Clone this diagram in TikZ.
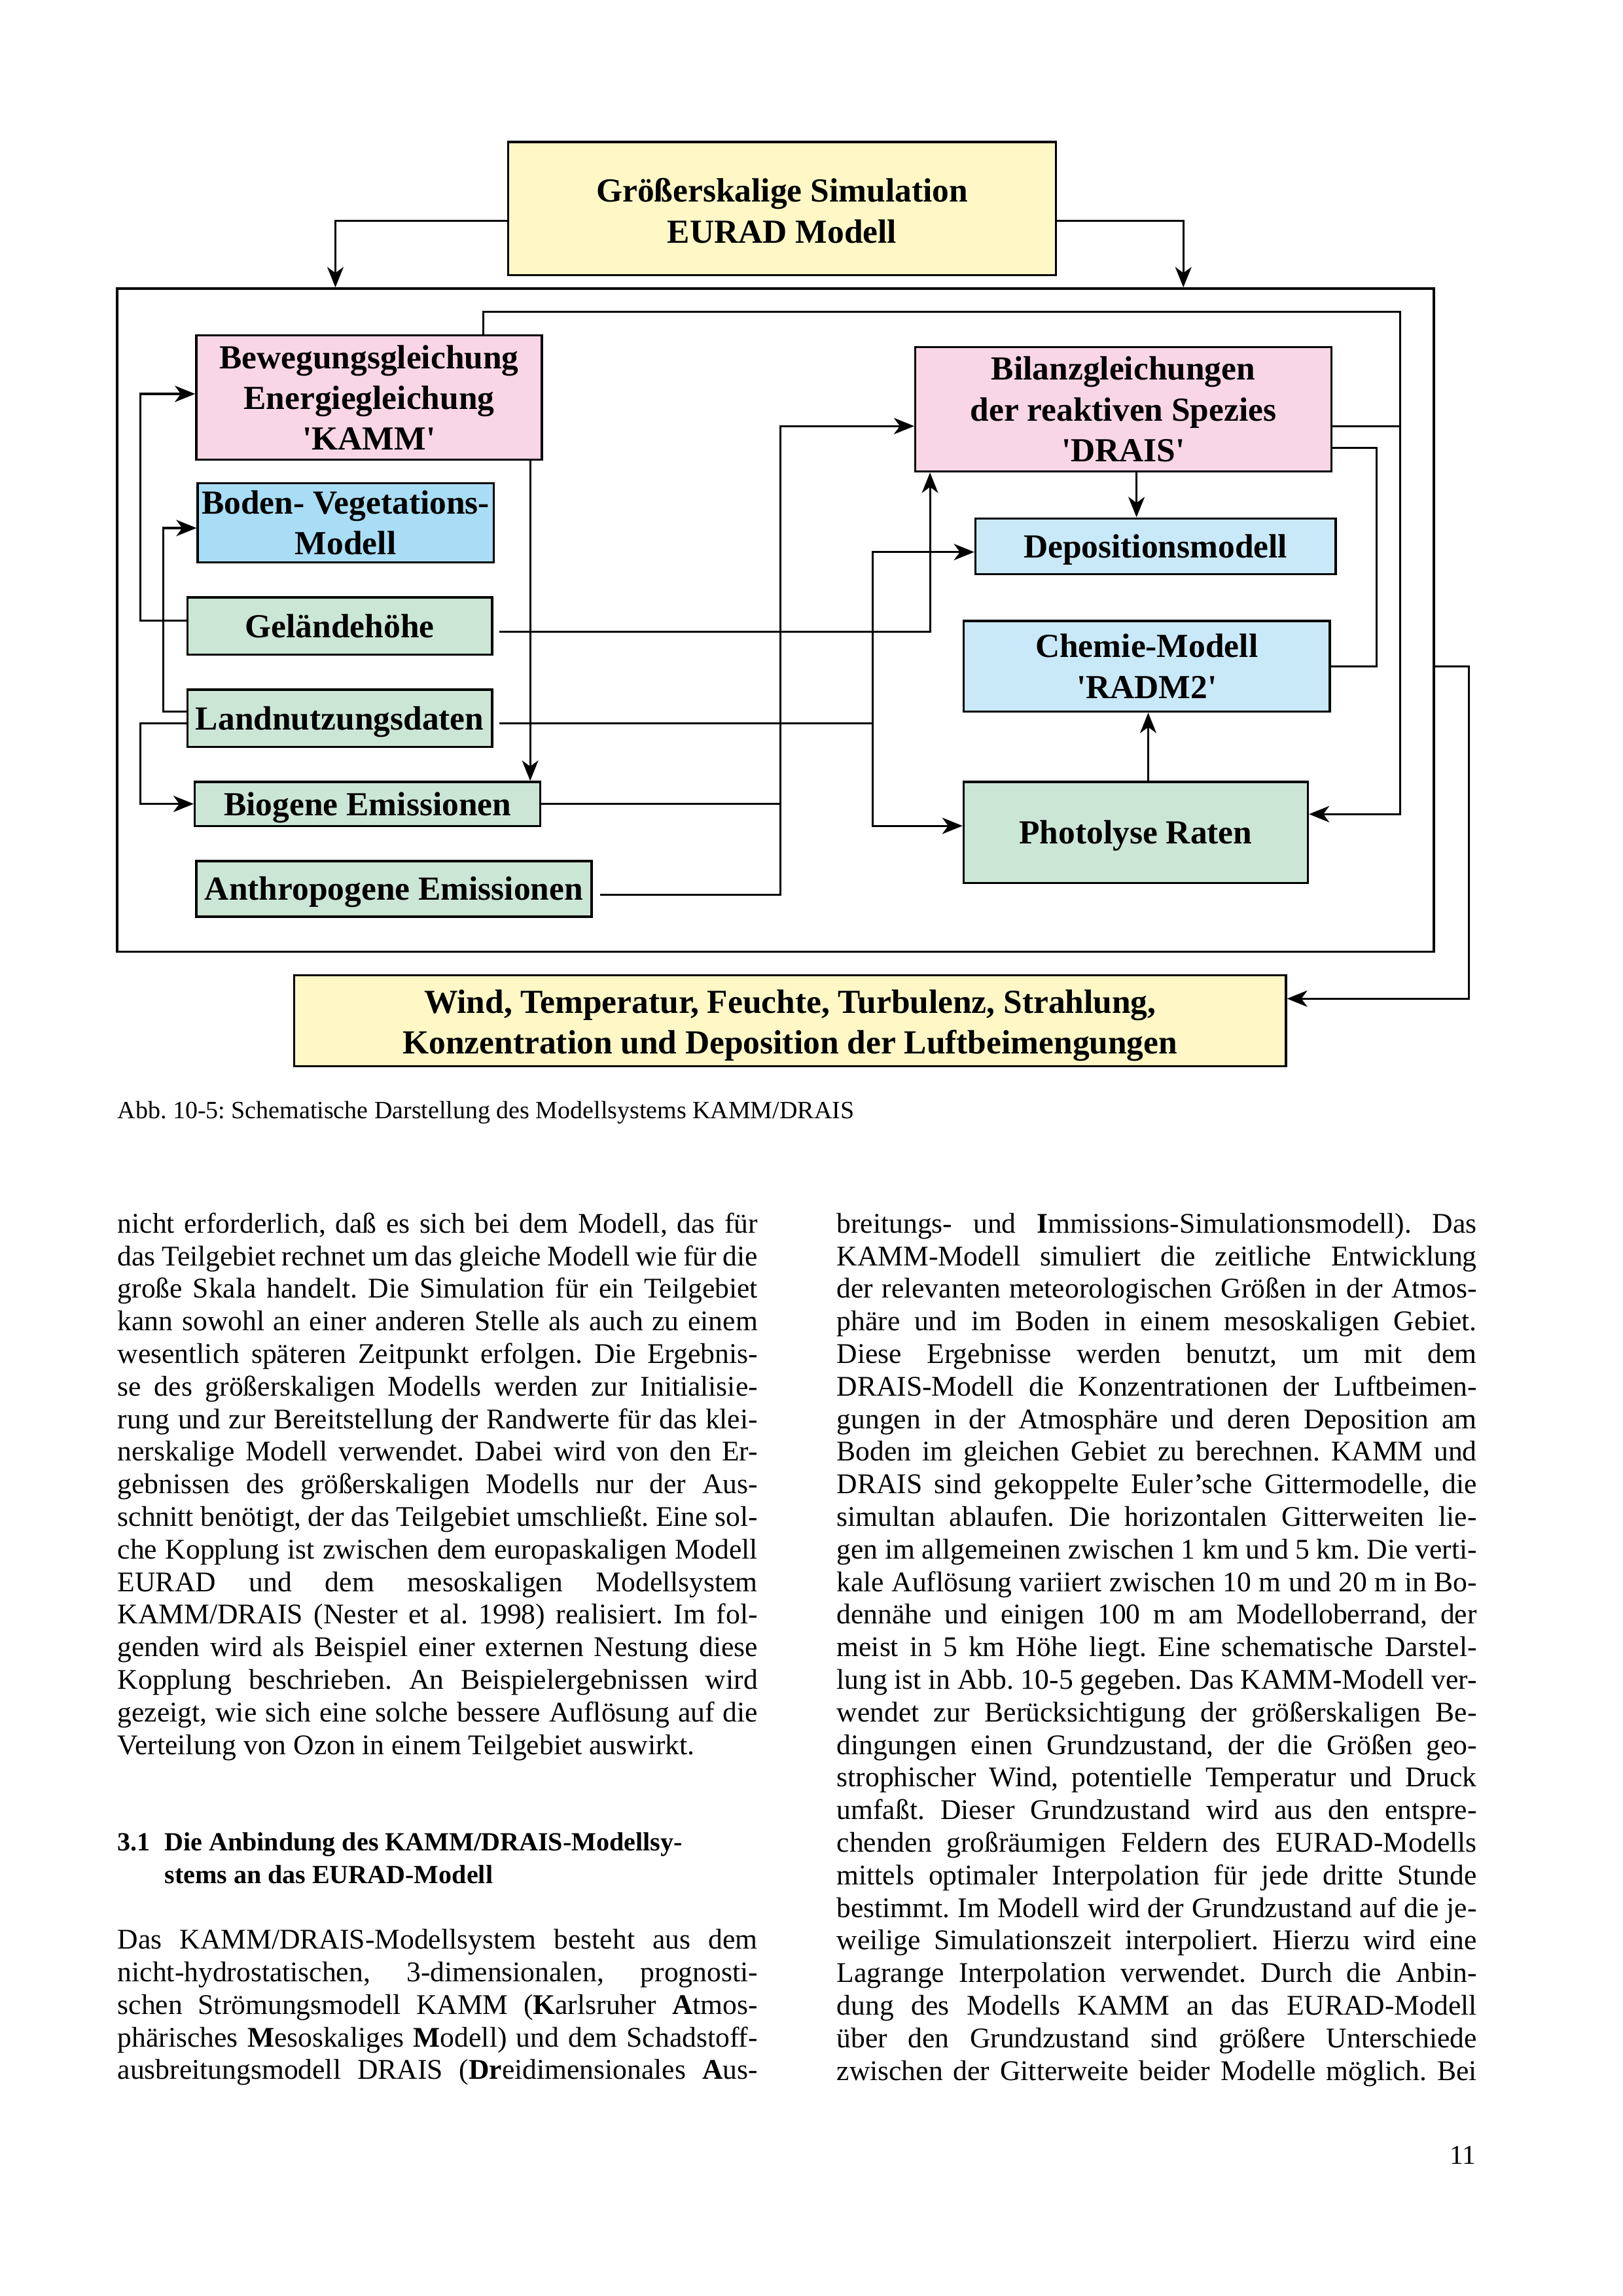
\documentclass[tikz,border=0pt]{standalone}
\usepackage{fontspec}
\setmainfont{Liberation Serif}
\usetikzlibrary{arrows.meta}
\frenchspacing
\newdimen\pxd \pxd=0.18953mm
\newdimen\colw \colw=437\pxd
\newcommand\JL[1]{\hbox to \colw{#1}}
\newcommand\NL[1]{\hbox{#1}}
\newcommand\px{0.18953mm}
\newcommand\dfont{\fontsize{12.4}{15}\selectfont\bfseries\frenchspacing}
\newcommand\bodyfont{\fontsize{10.5}{12}\selectfont\frenchspacing}
\newcommand\q{\textquotesingle}
\definecolor{cyel}{RGB}{255,248,198}
\definecolor{cpink}{RGB}{249,214,229}
\definecolor{cblueA}{RGB}{168,221,245}
\definecolor{cblueB}{RGB}{201,233,248}
\definecolor{cgreen}{RGB}{204,230,213}
\tikzset{
  boxst/.style={draw, line width=0.8pt, inner sep=0pt, align=center, font=\dfont},
  one/.style={text height=11pt, text depth=2.6pt},
  dtext/.style={inner sep=0pt, align=center, font=\dfont},
  conn/.style={line width=0.75pt},
  arr/.style={conn, -{Stealth[length=7.5pt,width=6pt,inset=2.2pt]}},
  bodytxt/.style={anchor=base west, inner sep=0pt, font=\bodyfont},
}
\begin{document}
\begin{tikzpicture}[x=0.18953mm, y=-0.18953mm]
\useasboundingbox (0,0) rectangle (1108,1568);

% ---------- diagram boxes ----------
\node[boxst, fill=cyel, minimum width=374*\px, minimum height=91*\px] (top) at (534,142.5) {};
\node[dtext] (toptext) at ([yshift=-1.5*\px]top.center) {Größerskalige Simulation\\EURAD Modell};
\node[draw, line width=0.8pt, inner sep=0pt, minimum width=899*\px, minimum height=453*\px] (frame) at (529.5,423.5) {};
\node[boxst, fill=cpink, minimum width=236*\px, minimum height=85*\px] (kamm) at (252,271.5)
  {Bewegungsgleichung\\Energiegleichung\\\q KAMM\q};
\node[boxst, fill=cblueA, minimum width=202*\px, minimum height=54*\px] (boden) at (236,357)
  {Boden- Vegetations-\\Modell};
\node[boxst, one, fill=cgreen, minimum width=208*\px, minimum height=39*\px] (gel) at (232,427.5) {Geländehöhe};
\node[boxst, one, fill=cgreen, minimum width=208*\px, minimum height=39*\px] (land) at (232,490.5) {Landnutzungsdaten};
\node[boxst, one, fill=cgreen, minimum width=236*\px, minimum height=30*\px] (bio) at (251,549) {Biogene Emissionen};
\node[boxst, one, fill=cgreen, minimum width=270*\px, minimum height=38*\px] (anth) at (269,607) {Anthropogene Emissionen};
\node[boxst, fill=cpink, minimum width=284*\px, minimum height=85*\px] (drais) at (767,279.5)
  {Bilanzgleichungen\\der reaktiven Spezies\\\q DRAIS\q};
\node[boxst, one, fill=cblueB, minimum width=246*\px, minimum height=38*\px] (depo) at (789,373) {Depositionsmodell};
\node[boxst, fill=cblueB, minimum width=250*\px, minimum height=62*\px] (chem) at (783,455)
  {Chemie-Modell\\\q RADM2\q};
\node[boxst, one, fill=cgreen, minimum width=235*\px, minimum height=69*\px] (photo) at (775.5,568.5) {Photolyse Raten};
\node[boxst, fill=cyel, minimum width=677*\px, minimum height=62*\px] (bottom) at (539.5,697) {};
\node[dtext] (bottomtext) at ([yshift=-3.5*\px]bottom.center)
  {Wind, Temperatur, Feuchte, Turbulenz, Strahlung,\\Konzentration und Deposition der Luftbeimengungen};

% ---------- connectors ----------
\draw[arr] ([yshift=-8.5*\px]top.west) -| (frame.north -| 229,0);
\draw[arr] ([yshift=-8.5*\px]top.east) -| (frame.north -| 808,0);
\draw[arr] (kamm.north -| 330,0) |- (956,213) |- (photo.east |- 0,556);
\draw[conn] (drais.east |- 0,291) -- (956,291);
\draw[conn] (drais.east |- 0,306) -| (940,455) -- (chem.east);
\draw[arr] (frame.east |- chem.east) -| (1003,682) -- (bottom.east |- 0,682);
\draw[arr] (kamm.south -| 362,0) -- (bio.north -| 362,0);
\draw[arr] (gel.west |- 0,424) -| (96,269) -- (kamm.west |- 0,269);
\draw[arr] (land.west |- 0,486) -| (111.6,360.6) -- (boden.west |- 0,360.6);
\draw[arr] (land.west |- 0,494) -| (96,549) -- (bio.west);
\draw[arr] ([xshift=4*\px]gel.east |- 0,431.6) -| (drais.south -| 635,0);
\coordinate (jl) at (596,494);
\draw[conn] ([xshift=4*\px]land.east |- jl) -- (jl);
\draw[arr] (jl) |- (depo.west |- 0,377);
\draw[arr] (jl) |- (photo.west |- 0,564);
\draw[arr] ([xshift=5*\px]anth.east |- 0,611) -| (533,291) -- (drais.west |- 0,291);
\draw[conn] (bio.east) -- (bio.east -| 533,0);
\draw[arr] (photo.north -| 784,0) -- (chem.south -| 784,0);
\draw[arr] (drais.south -| 776,0) -- (depo.north -| 776,0);

% ---------- caption ----------
\node[anchor=base west, inner sep=0pt, font=\fontsize{9.15}{11}\selectfont] (caption) at (80,764)
  {Abb. 10-5: Schematische Darstellung des Modellsystems KAMM/DRAIS};

% ---------- left column ----------
\node[bodytxt] (bodyL1) at (80,842) {\vtop{%
\JL{nicht erforderlich, daß es sich bei dem Modell, das für}
\JL{das Teilgebiet rechnet um das gleiche Modell wie für die}
\JL{große Skala handelt. Die Simulation für ein Teilgebiet}
\JL{kann sowohl an einer anderen Stelle als auch zu einem}
\JL{wesentlich späteren Zeitpunkt erfolgen. Die Ergebnis-}
\JL{se des größerskaligen Modells werden zur Initialisie-}
\JL{rung und zur Bereitstellung der Randwerte für das klei-}
\JL{nerskalige Modell verwendet. Dabei wird von den Er-}
\JL{gebnissen des größerskaligen Modells nur der Aus-}
\JL{schnitt benötigt, der das Teilgebiet umschließt. Eine sol-}
\JL{che Kopplung ist zwischen dem europaskaligen Modell}
\JL{EURAD und dem mesoskaligen Modellsystem}
\JL{KAMM/DRAIS (Nester et al. 1998) realisiert. Im fol-}
\JL{genden wird als Beispiel einer externen Nestung diese}
\JL{Kopplung beschrieben. An Beispielergebnissen wird}
\JL{gezeigt, wie sich eine solche bessere Auflösung auf die}
\NL{Verteilung von Ozon in einem Teilgebiet auswirkt.}}};

\node[anchor=base west, inner sep=0pt, font=\fontsize{9.65}{11.9}\selectfont\bfseries] (head) at (80,1264) {\vtop{%
\hbox{\hbox to 32\pxd{3.1\hss}Die Anbindung des KAMM/DRAIS-Modellsy-}
\hbox{\hskip 32\pxd stems an das EURAD-Modell}}};

\node[bodytxt] (bodyL2) at (80,1331) {\vtop{%
\JL{Das KAMM/DRAIS-Modellsystem besteht aus dem}
\JL{nicht-hydrostatischen, 3-dimensionalen, prognosti-}
\JL{schen Strömungsmodell KAMM (\textbf{K}arlsruher \textbf{A}tmos-}
\JL{phärisches \textbf{M}esoskaliges \textbf{M}odell) und dem Schadstoff-}
\JL{ausbreitungsmodell DRAIS (\textbf{Dr}eidimensionales \textbf{A}us-}}};

% ---------- right column ----------
\node[bodytxt] (bodyR) at (571,842) {\vtop{%
\JL{breitungs- und \textbf{I}mmissions-Simulationsmodell). Das}
\JL{KAMM-Modell simuliert die zeitliche Entwicklung}
\JL{der relevanten meteorologischen Größen in der Atmos-}
\JL{phäre und im Boden in einem mesoskaligen Gebiet.}
\JL{Diese Ergebnisse werden benutzt, um mit dem}
\JL{DRAIS-Modell die Konzentrationen der Luftbeimen-}
\JL{gungen in der Atmosphäre und deren Deposition am}
\JL{Boden im gleichen Gebiet zu berechnen. KAMM und}
\JL{DRAIS sind gekoppelte Euler’sche Gittermodelle, die}
\JL{simultan ablaufen. Die horizontalen Gitterweiten lie-}
\JL{gen im allgemeinen zwischen 1 km und 5 km. Die verti-}
\JL{kale Auflösung variiert zwischen 10 m und 20 m in Bo-}
\JL{dennähe und einigen 100 m am Modelloberrand, der}
\JL{meist in 5 km Höhe liegt. Eine schematische Darstel-}
\JL{lung ist in Abb. 10-5 gegeben. Das KAMM-Modell ver-}
\JL{wendet zur Berücksichtigung der größerskaligen Be-}
\JL{dingungen einen Grundzustand, der die Größen geo-}
\JL{strophischer Wind, potentielle Temperatur und Druck}
\JL{umfaßt. Dieser Grundzustand wird aus den entspre-}
\JL{chenden großräumigen Feldern des EURAD-Modells}
\JL{mittels optimaler Interpolation für jede dritte Stunde}
\JL{bestimmt. Im Modell wird der Grundzustand auf die je-}
\JL{weilige Simulationszeit interpoliert. Hierzu wird eine}
\JL{Lagrange Interpolation verwendet. Durch die Anbin-}
\JL{dung des Modells KAMM an das EURAD-Modell}
\JL{über den Grundzustand sind größere Unterschiede}
\JL{zwischen der Gitterweite beider Modelle möglich. Bei}}};

\node[anchor=base east, inner sep=0pt, font=\fontsize{10}{12}\selectfont] (pagenum) at (1008,1478) {11};
\end{tikzpicture}
\end{document}
